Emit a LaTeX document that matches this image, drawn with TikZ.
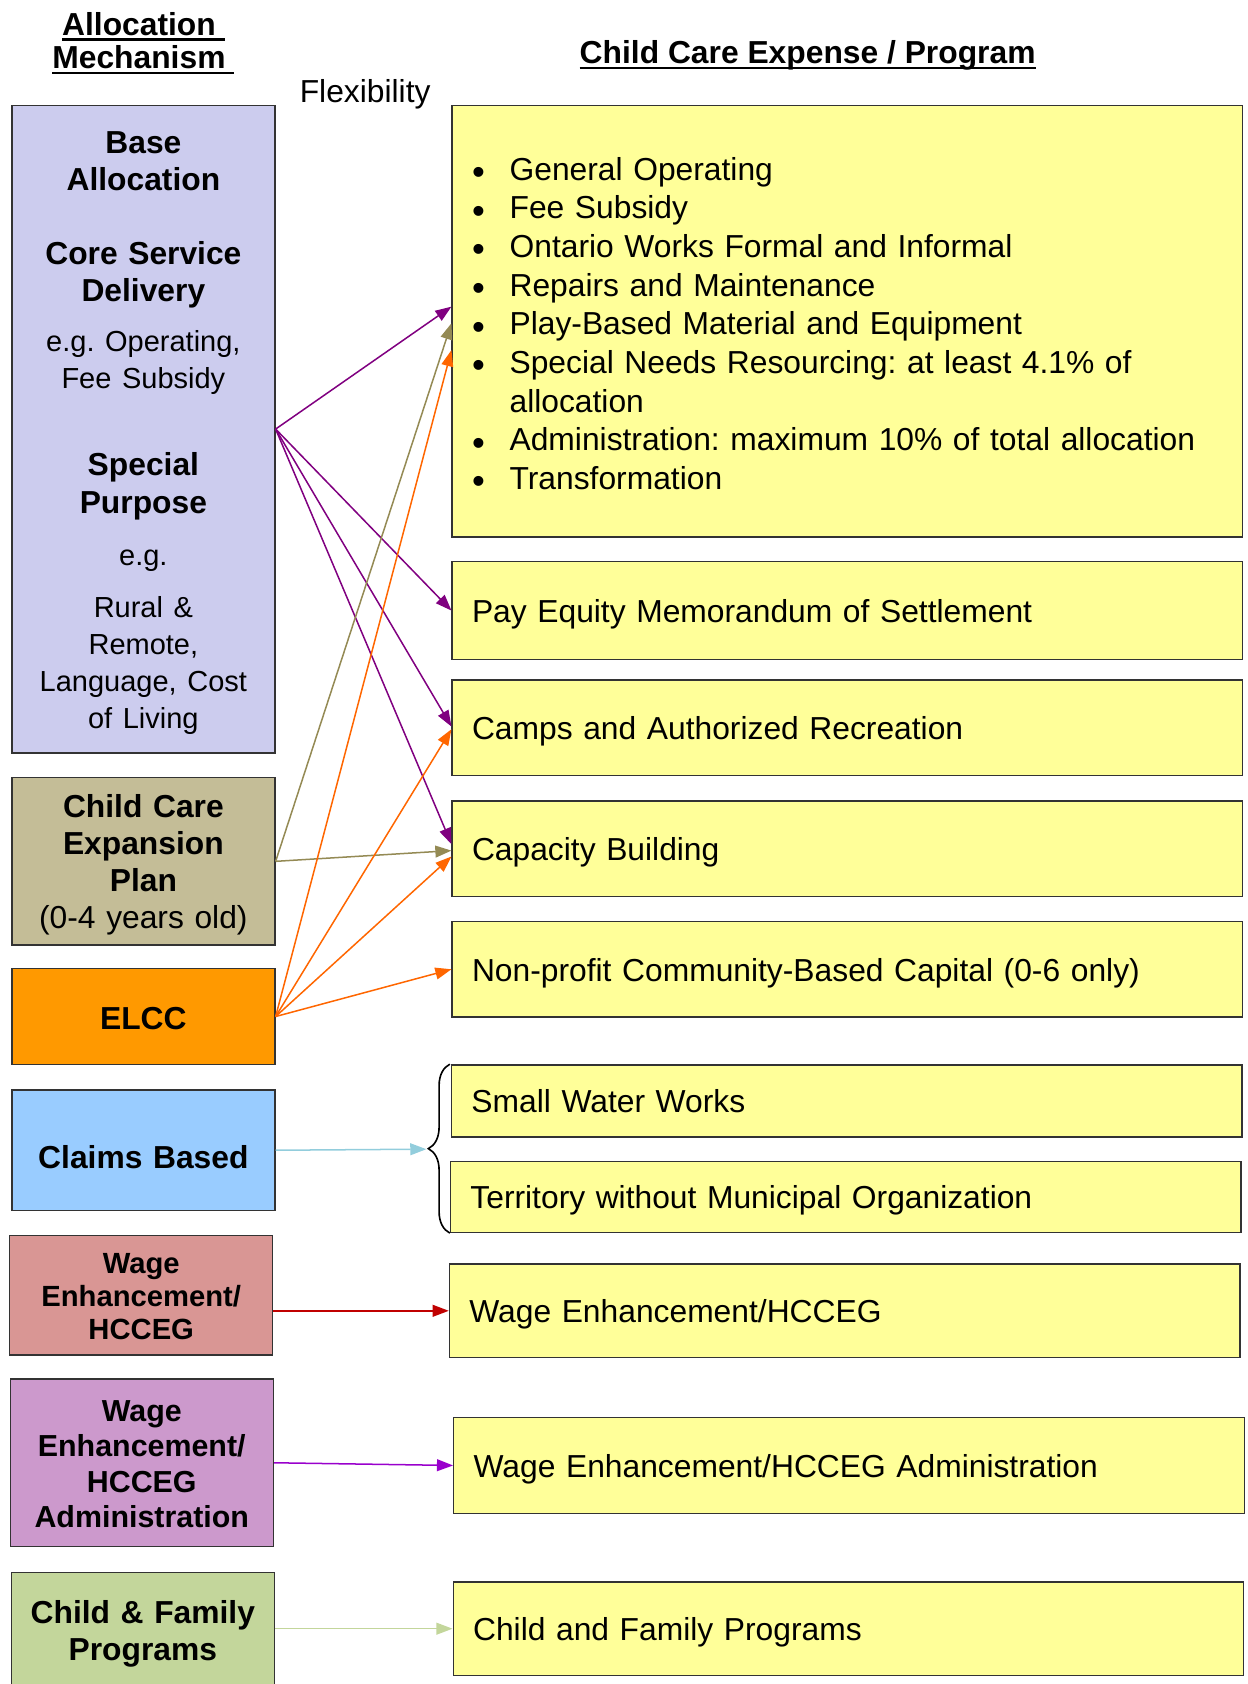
\documentclass[tikz,border=0pt]{standalone}
\usepackage{fontspec}
\setmainfont{Liberation Sans}
\usepackage{tikz}
\usetikzlibrary{arrows.meta, decorations.pathreplacing}
\frenchspacing

\definecolor{lav}{RGB}{204,204,238}
\definecolor{tanbox}{RGB}{196,189,151}
\definecolor{orabox}{RGB}{255,153,0}
\definecolor{bluebox}{RGB}{153,204,255}
\definecolor{pinkbox}{RGB}{217,150,148}
\definecolor{plumbox}{RGB}{204,153,204}
\definecolor{greenbox}{RGB}{195,214,155}
\definecolor{yel}{RGB}{255,255,153}
\definecolor{bord}{RGB}{51,51,51}
\definecolor{cpurple}{RGB}{128,0,128}
\definecolor{ctan}{RGB}{148,138,84}
\definecolor{corange}{RGB}{255,102,0}
\definecolor{cblue}{RGB}{146,205,220}
\definecolor{cred}{RGB}{192,0,0}
\definecolor{cviolet}{RGB}{153,0,204}
\definecolor{cgreen}{RGB}{195,214,155}

\newcommand\fsz[1]{\fontsize{29.6}{#1}\selectfont}
\newcommand\smtxt{\mdseries\fontsize{27}{34.5}\selectfont}
\newcommand\undl[1]{\setbox0\hbox{#1}\rlap{\vrule width\wd0 height-2.7pt depth5.2pt}\box0}
\newcommand\itm{\makebox[35pt][l]{\raisebox{-4pt}{\scalebox{1.15}{\textbullet}}}}

\begin{document}
\begin{tikzpicture}[
        x=1pt, y=-1pt,
        mech/.style={draw=bord, line width=1.3pt, minimum width=245pt, text width=240pt,
          inner sep=0pt, align=center, font=\bfseries\fsz{34.5}, text height=27.5pt},
        prog/.style={draw=bord, fill=yel, line width=1.3pt, minimum width=736pt, text width=699pt,
          inner xsep=18.5pt, inner ysep=0pt, align=left, font=\fsz{36}, text height=22pt, text depth=0pt},
        ar/.style={-{Triangle[length=15pt,width=11pt]}, line width=1.4pt}
      ]
      \useasboundingbox (0,0) rectangle (1162,1568);
      % headings
      \node[anchor=base, font=\bfseries\fsz{31}, align=center] (tm) at (133.5,64) {\undl{Allocation\ }\\\undl{Mechanism\ }};
      \node[anchor=base, font=\bfseries\fsz{36}] (tp) at (752,59.5) {\undl{Child Care Expense / Program}};
      \node[anchor=base, font=\fsz{36}] (fx) at (340,95.5) {Flexibility};
      % allocation mechanisms
      \node[mech, fill=lav, minimum height=603pt] (m1) at (133.5,399.5) {Base\\Allocation\\[34.5pt]Core Service\\Delivery\\[12.5pt]\smtxt e.g. Operating,\\Fee Subsidy\\[46.5pt]\bfseries\fsz{34.5} Special\\Purpose\\[14.5pt]\smtxt e.g.\\[13.5pt]Rural \&\\Remote,\\Language, Cost\\of Living};
      \node[mech, fill=tanbox, minimum height=156pt] (m2) at (133.5,802) {Child Care\\Expansion\\Plan\\\mdseries(0-4 years old)};
      \node[mech, fill=orabox, minimum height=89pt, text height=25pt] (m3) at (133.5,946.5) {ELCC};
      \node[mech, fill=bluebox, minimum height=112pt, text height=35pt] (m4) at (133.5,1071) {Claims Based};
      \node[mech, fill=pinkbox, minimum height=111.5pt, text height=21.5pt, font=\bfseries\fontsize{27.2}{31}\selectfont] (m5) at (131.5,1206) {Wage\\Enhancement/\\HCCEG};
      \node[mech, fill=plumbox, minimum height=156pt, text height=22.3pt, font=\bfseries\fontsize{28.3}{33}\selectfont] (m6) at (132,1362) {Wage\\Enhancement/\\HCCEG\\Administration};
      \node[mech, fill=greenbox, minimum height=109pt, text height=27.2pt] (m7) at (133,1518.5) {Child \& Family\\Programs};
      % programs
      \node[prog, minimum height=402pt, text height=25.5pt, text depth=288pt] (p1) at (789,299) {\itm General Operating\\\itm Fee Subsidy\\\itm Ontario Works Formal and Informal\\\itm Repairs and Maintenance\\\itm Play-Based Material and Equipment\\\itm Special Needs Resourcing: at least 4.1\% of\\\hspace*{35pt}allocation\\\itm Administration: maximum 10\% of total allocation\\\itm Transformation};
      \foreach \n/\x/\y/\h/\txt in {
          p2/789/568.5/91/{Pay Equity Memorandum of Settlement},
          p3/789/677.5/89/{Camps and Authorized Recreation},
          p4/789/790.5/89/{Capacity Building},
          p5/789/902.5/89/{Non-profit Community-Based Capital (0-6 only)},
          p6/788.5/1025/67/{Small Water Works},
          p7/787.5/1114.5/66/{Territory without Municipal Organization},
          p8/786.5/1220.5/87/{Wage Enhancement/HCCEG},
          p9/790.5/1364.5/89/{Wage Enhancement/HCCEG Administration},
          p10/790/1516.5/87/{Child and Family Programs}}{
        \node[prog, minimum height=\h pt] (\n) at (\x,\y) {\txt};
      }
      \draw[decorate, decoration={brace, amplitude=20pt}, line width=1.5pt] (p7.south west) -- (p7.south west |- p6.north west);
      \coordinate (brc) at (397,1070);
      % connectors
      \foreach \p/\dy in {p1/13.5pt, p2/0pt, p3/1pt, p4/4.5pt}{\draw[ar, cpurple] (m1.east) -- ([yshift=\dy]\p.west);}
      \foreach \p/\dy in {p1/-2pt, p4/-1.5pt}{\draw[ar, ctan] (m2.east) -- ([yshift=\dy]\p.west);}
      \foreach \p/\dy in {p1/-27pt, p3/-1.5pt, p4/-7pt, p5/0pt}{\draw[ar, corange] (m3.east) -- ([yshift=\dy]\p.west);}
      \draw[ar, cblue] (m4.east) -- (brc);
      \draw[ar, cred] (m5.east |- p8.west) -- (p8.west);
      \draw[ar, cviolet] (m6.east) -- (p9.west);
      \draw[ar, cgreen] (m7.east |- p10.west) -- (p10.west);
    \end{tikzpicture}
\end{document}
